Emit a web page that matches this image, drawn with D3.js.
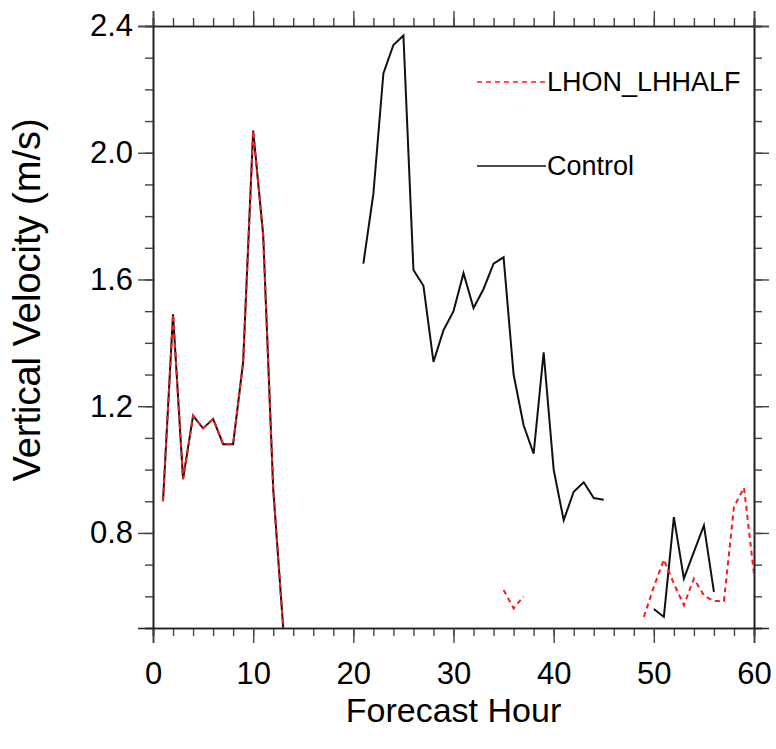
<!DOCTYPE html>
<html>
<head>
<meta charset="utf-8">
<script src="https://cdn.jsdelivr.net/npm/d3@7"></script>
<style>
  html, body { margin: 0; padding: 0; background: #fff; }
  svg { display: block; }
  text { font-family: "Liberation Sans", Arial, Helvetica, sans-serif; fill: #000; }
</style>
</head>
<body>
<script>
// Forecast hours 1..60; null marks a missing value
const hours = d3.range(1, 61);

// Control run, vertical velocity (m/s)
const controlValues = [
  0.90, 1.49, 0.97, 1.17, 1.13, 1.16, 1.08, 1.08, 1.34, 2.07,
  1.74, 0.94, 0.50, null, null, null, null, null, null, null,
  1.65, 1.87, 2.25, 2.34, 2.37, 1.63, 1.58, 1.34, 1.44, 1.50,
  1.62, 1.51, 1.57, 1.65, 1.67, 1.30, 1.14, 1.05, 1.37, 1.00,
  0.84, 0.93, 0.96, 0.91, 0.905, null, null, null, null, 0.56,
  0.535, 0.85, 0.656, 0.74, 0.824, 0.614, null, null, null, null
];

// LHON_LHHALF run, vertical velocity (m/s)
const lhhalfValues = [
  0.90, 1.49, 0.97, 1.17, 1.13, 1.16, 1.08, 1.08, 1.34, 2.07,
  1.74, 0.94, 0.50, null, null, null, null, null, null, null,
  null, null, null, null, null, null, null, null, null, null,
  null, null, null, null, 0.62, 0.562, 0.60, null, null, null,
  null, null, null, null, null, null, null, null, 0.535, 0.63,
  0.716, 0.64, 0.572, 0.656, 0.603, 0.585, 0.585, 0.882, 0.943, 0.67
];

const xMajorTicks = [0, 10, 20, 30, 40, 50, 60];
const xMinorTicks = d3.range(0, 61, 2);
const yMajorTicks = [0.8, 1.2, 1.6, 2.0, 2.4];
const yMinorTicks = d3.range(5, 25).map(v => v / 10);

const seriesNames = ["LHON_LHHALF", "Control"];

const W = 776, H = 749;
const margin = { left: 153, right: 22, top: 26, bottom: 121 };
const innerW = W - margin.left - margin.right;
const innerH = H - margin.top - margin.bottom;

const svg = d3.select("body").append("svg")
  .attr("width", W).attr("height", H);

const g = svg.append("g").attr("transform", `translate(${margin.left},${margin.top})`);

const x = d3.scaleLinear().domain([0, 60]).range([0, innerW]);
const y = d3.scaleLinear().domain([0.5, 2.4]).range([innerH, 0]);

const majorLen = 15, minorLen = 8;

function styleAxis(sel) {
  sel.selectAll(".domain").attr("stroke", "#222").attr("stroke-width", 1.6);
  sel.selectAll(".tick line").attr("stroke", "#444").attr("stroke-width", 1.4);
  sel.selectAll(".tick text").attr("font-size", 31).attr("fill", "#000");
}

// Bottom
g.append("g").attr("transform", `translate(0,${innerH})`)
  .call(d3.axisBottom(x).tickValues(xMinorTicks).tickSize(minorLen).tickFormat(""))
  .call(styleAxis);
g.append("g").attr("transform", `translate(0,${innerH})`)
  .call(d3.axisBottom(x).tickValues(xMajorTicks).tickSize(majorLen).tickPadding(19).tickFormat(d3.format("d")))
  .call(styleAxis);
// Top (mirror)
g.append("g")
  .call(d3.axisTop(x).tickValues(xMinorTicks).tickSize(minorLen).tickFormat(""))
  .call(styleAxis);
g.append("g")
  .call(d3.axisTop(x).tickValues(xMajorTicks).tickSize(majorLen).tickFormat(""))
  .call(styleAxis);
// Left
g.append("g")
  .call(d3.axisLeft(y).tickValues(yMinorTicks).tickSize(minorLen).tickFormat(""))
  .call(styleAxis);
g.append("g")
  .call(d3.axisLeft(y).tickValues(yMajorTicks).tickSize(majorLen).tickPadding(5).tickFormat(d3.format(".1f")))
  .call(styleAxis);
// Right (mirror)
g.append("g").attr("transform", `translate(${innerW},0)`)
  .call(d3.axisRight(y).tickValues(yMinorTicks).tickSize(minorLen).tickFormat(""))
  .call(styleAxis);
g.append("g").attr("transform", `translate(${innerW},0)`)
  .call(d3.axisRight(y).tickValues(yMajorTicks).tickSize(majorLen).tickFormat(""))
  .call(styleAxis);

// Clip lines to the plotting frame
svg.append("defs").append("clipPath").attr("id", "plotclip")
  .append("rect").attr("width", innerW).attr("height", innerH);

const line = d3.line()
  .defined(d => d[1] !== null)
  .x(d => x(d[0]))
  .y(d => y(d[1]));

const plot = g.append("g").attr("clip-path", "url(#plotclip)");

plot.append("path")
  .datum(hours.map((h, i) => [h, controlValues[i]]))
  .attr("d", line)
  .attr("fill", "none")
  .attr("stroke", "#111")
  .attr("stroke-width", 2);

plot.append("path")
  .datum(hours.map((h, i) => [h, lhhalfValues[i]]))
  .attr("d", line)
  .attr("fill", "none")
  .attr("stroke", "#ff1a1a")
  .attr("stroke-width", 2)
  .attr("stroke-dasharray", "5,4");

// Legend
const legend = svg.append("g");
const legendItems = [
  { name: seriesNames[0], color: "#ff1a1a", dash: "5,4", ly: 82 },
  { name: seriesNames[1], color: "#111", dash: null, ly: 166 }
];
legendItems.forEach(item => {
  legend.append("line")
    .attr("x1", 477).attr("x2", 546)
    .attr("y1", item.ly).attr("y2", item.ly)
    .attr("stroke", item.color)
    .attr("stroke-width", 1.6)
    .attr("stroke-dasharray", item.dash);
  legend.append("text")
    .attr("x", 547).attr("y", item.ly + 9)
    .attr("font-size", 27)
    .text(item.name);
});

// Axis titles
svg.append("text")
  .attr("x", margin.left + innerW / 2)
  .attr("y", 722)
  .attr("text-anchor", "middle")
  .attr("font-size", 34)
  .text("Forecast Hour");

svg.append("text")
  .attr("transform", `translate(40,300) rotate(-90)`)
  .attr("text-anchor", "middle")
  .attr("font-size", 38)
  .text("Vertical Velocity (m/s)");
</script>
</body>
</html>
